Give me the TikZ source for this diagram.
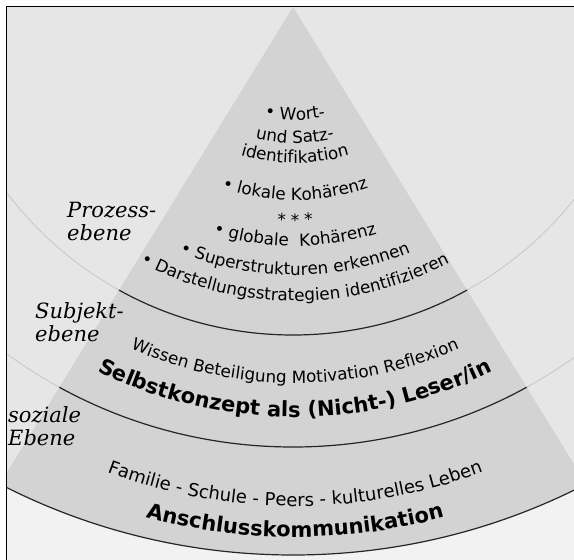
\documentclass[tikz,border=0pt]{standalone}
\usepackage{fontspec}
\setsansfont{DejaVu Sans}
\newfontfamily\levelserif{DejaVu Serif}
\usetikzlibrary{decorations.text}

\definecolor{outerbg}{HTML}{E6E6E6}
\definecolor{lowerbg}{HTML}{F2F2F2}
\definecolor{pyramidbg}{HTML}{D3D3D3}
\definecolor{faintarc}{HTML}{C6C6C6}

\newcommand\plainfont{\sffamily\fontsize{16.8}{19}\selectfont}
\newcommand\largefont{\sffamily\fontsize{18}{20}\selectfont}
\newcommand\heavyfont{\sffamily\bfseries\fontsize{21}{24}\selectfont}

\newcommand\curvedline[3]{%
  \path[decorate, decoration={text along path, text align=center, text={|#2|#3}}]
    (textcentre) ++(150:#1) arc[start angle=150, end angle=30, radius=#1];}

\begin{document}
\begin{tikzpicture}[
    x=1pt, y=-1pt,
    faint/.style={draw=faintarc, line width=0.8pt},
    dark/.style={draw=black!85, line width=1.2pt},
    level/.style={font=\levelserif\itshape\fontsize{21}{23}\selectfont, align=left, anchor=base west, inner sep=0pt}
]
\useasboundingbox (0,0) rectangle (574,560);
\coordinate (apex) at (293,7);
\coordinate (leftfoot) at (-53,570);
\coordinate (rightfoot) at (639,570);
\coordinate (c1) at (293,-24);
\coordinate (c2) at (293,-39);
\coordinate (c3) at (293,-85);
\coordinate (textcentre) at (295,-30);

\begin{scope}
  \clip (6,6) rectangle (580,570);
  \fill[lowerbg] (6,6) rectangle (580,570);
  \fill[outerbg] (c3) circle[radius=640];
  \begin{scope}
    \clip (c3) circle[radius=640];
    \fill[pyramidbg] (apex) -- (leftfoot) -- (rightfoot) -- cycle;
  \end{scope}
  \draw[faint] (c1) circle[radius=359];
  \draw[faint] (c2) circle[radius=486];
  \begin{scope}
    \clip (apex) -- (leftfoot) -- (rightfoot) -- cycle;
    \draw[dark] (c1) circle[radius=359];
    \draw[dark] (c2) circle[radius=486];
  \end{scope}
  \draw[dark] (c3) circle[radius=640];
\end{scope}
\draw[line width=1.6pt] (6.5,570) -- (6.5,6.5) -- (580,6.5);

\curvedline{150}{\plainfont}{• Wort-}
\curvedline{173}{\plainfont}{und Satz-}
\curvedline{193}{\plainfont}{identifikation}
\curvedline{230}{\plainfont}{• lokale Kohärenz}
\curvedline{256}{\plainfont}{* * *}
\curvedline{276}{\plainfont}{• globale {\ }Kohärenz}
\curvedline{305}{\plainfont}{• Superstrukturen erkennen}
\curvedline{331}{\plainfont}{• Darstellungsstrategien identifizieren}
\curvedline{413}{\plainfont}{Wissen Beteiligung Motivation Reflexion}
\curvedline{447}{\heavyfont}{Selbstkonzept als (Nicht-) Leser/in}
\curvedline{536}{\largefont}{Familie - Schule - Peers - kulturelles Leben}
\curvedline{567}{\heavyfont}{Anschlusskommunikation}

\node[level] (prozess) at (67,240) {Prozess-\\ebene};
\node[level] (subjekt) at (35,341) {Subjekt-\\ebene};
\node[level] (sozial) at (8,445) {soziale\\Ebene};
\end{tikzpicture}
\end{document}
